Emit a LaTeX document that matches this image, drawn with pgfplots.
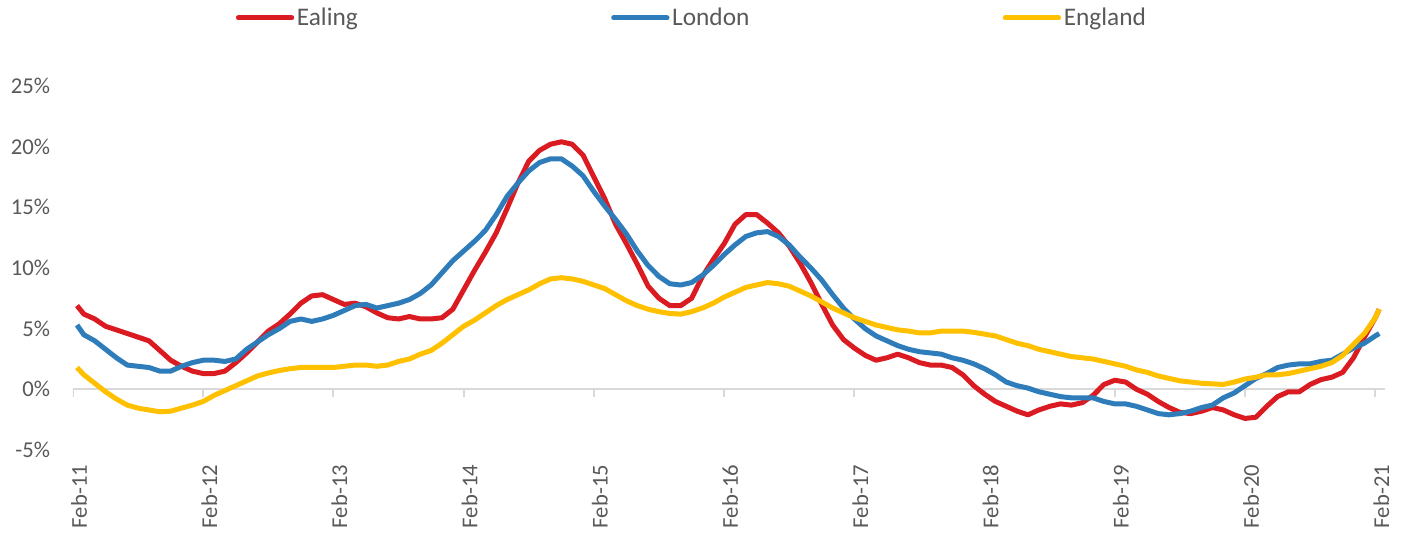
\documentclass[border=0pt]{standalone}
\usepackage{fontspec}
\setmainfont{Carlito}
\usepackage{pgfplots}
\usepackage{pgfplotstable}
\pgfplotsset{compat=1.18}

\definecolor{ealing}{RGB}{218,27,33}
\definecolor{london}{RGB}{46,125,186}
\definecolor{england}{RGB}{255,192,0}
\definecolor{txt}{RGB}{89,89,89}
\definecolor{zeroline}{RGB}{217,217,217}

% annual house price change, monthly, Feb-11 .. Feb-21 (x = months since Feb-11)
\pgfplotstableread{
x      ealing london england
0.37   6.9    5.3    1.8
1      6.2    4.5    1.2
2      5.8    4.0    0.5
3      5.2    3.3   -0.2
4      4.9    2.6   -0.8
5      4.6    2.0   -1.3
6      4.3    1.9   -1.55
7      4.0    1.8   -1.7
8      3.2    1.5   -1.85
9      2.4    1.5   -1.8
10     1.9    1.9   -1.55
11     1.5    2.2   -1.3
12     1.3    2.4   -1.0
13     1.3    2.4   -0.5
14     1.5    2.3   -0.1
15     2.2    2.5    0.3
16     3.0    3.3    0.7
17     3.9    3.9    1.1
18     4.8    4.5    1.35
19     5.4    5.0    1.55
20     6.2    5.6    1.7
21     7.1    5.8    1.8
22     7.7    5.6    1.8
23     7.8    5.8    1.8
24     7.4    6.1    1.8
25     7.0    6.5    1.9
26     7.1    6.9    2.0
27     6.8    7.0    2.0
28     6.3    6.7    1.9
29     5.9    6.9    2.0
30     5.8    7.1    2.3
31     6.0    7.4    2.5
32     5.8    7.9    2.9
33     5.8    8.6    3.2
34     5.9    9.6    3.8
35     6.6    10.6   4.5
36     8.2    11.4   5.2
37     9.8    12.2   5.7
38     11.3   13.1   6.3
39     12.9   14.4   6.9
40     14.9   15.9   7.4
41     17.0   17.0   7.8
42     18.8   18.0   8.2
43     19.7   18.7   8.7
44     20.2   19.0   9.1
45     20.4   19.0   9.2
46     20.2   18.4   9.1
47     19.3   17.6   8.9
48     17.5   16.3   8.6
49     15.7   15.1   8.3
50     13.6   14.0   7.8
51     12.0   12.8   7.3
52     10.3   11.4   6.9
53     8.5    10.2   6.6
54     7.5    9.3    6.4
55     6.9    8.7    6.25
56     6.9    8.6    6.2
57     7.5    8.8    6.4
58     9.3    9.4    6.7
59     10.7   10.2   7.1
60     12.0   11.1   7.6
61     13.6   11.9   8.0
62     14.4   12.6   8.4
63     14.4   12.9   8.6
64     13.7   13.0   8.8
65     12.9   12.6   8.7
66     11.8   11.9   8.5
67     10.4   10.9   8.1
68     8.8    10.0   7.7
69     7.0    9.0    7.2
70     5.3    7.8    6.7
71     4.1    6.7    6.3
72     3.4    5.8    5.9
73     2.8    5.0    5.6
74     2.4    4.4    5.3
75     2.6    4.0    5.1
76     2.9    3.6    4.9
77     2.6    3.3    4.8
78     2.2    3.1    4.65
79     2.0    3.0    4.65
80     2.0    2.9    4.8
81     1.8    2.6    4.8
82     1.2    2.4    4.8
83     0.3    2.1    4.7
84    -0.4    1.7    4.55
85    -1.0    1.2    4.4
86    -1.4    0.6    4.1
87    -1.8    0.3    3.8
88    -2.1    0.1    3.6
89    -1.7   -0.2    3.3
90    -1.4   -0.4    3.1
91    -1.2   -0.6    2.9
92    -1.3   -0.7    2.7
93    -1.1   -0.7    2.6
94    -0.5   -0.7    2.5
95     0.4   -1.0    2.3
96     0.75  -1.2    2.1
97     0.6   -1.2    1.9
98     0.0   -1.4    1.6
99    -0.4   -1.7    1.4
100   -1.0   -2.0    1.1
101   -1.5   -2.1    0.9
102   -1.9   -2.0    0.7
103   -2.0   -1.8    0.6
104   -1.8   -1.5    0.5
105   -1.5   -1.3    0.45
106   -1.7   -0.7    0.4
107   -2.1   -0.3    0.6
108   -2.4    0.3    0.85
109   -2.3    0.9    1.0
110   -1.4    1.3    1.2
111   -0.6    1.8    1.2
112   -0.2    2.0    1.3
113   -0.2    2.1    1.5
114    0.4    2.1    1.7
115    0.8    2.3    1.9
116    1.0    2.4    2.2
117    1.4    2.9    2.8
118    2.6    3.4    3.7
119    4.3    3.8    4.6
120    5.9    4.4    5.9
120.37 6.6    4.6    6.6
}\prices

\begin{document}
\begin{tikzpicture}
\begin{axis}[
    at={(0,0)}, anchor=south west,
    scale only axis,
    width=984pt, height=273pt,
    xmin=0, xmax=120.9,
    ymin=-5, ymax=25,
    axis line style={draw=none},
    major tick length=0pt,
    xtick={0,12,...,120},
    xticklabels={Feb-11,Feb-12,Feb-13,Feb-14,Feb-15,Feb-16,Feb-17,Feb-18,Feb-19,Feb-20,Feb-21},
    ytick={-5,0,...,25},
    yticklabels={-5\%,0\%,5\%,10\%,15\%,20\%,25\%},
    ticklabel style={font=\fontsize{17}{20}\selectfont, text=txt, inner sep=0pt},
    xticklabel style={xshift=4.5pt, rotate=90, anchor=east},
    xticklabel shift=11pt,
    yticklabel shift=17pt,
    legend columns=3,
    legend style={
        at={(0.472,1.187)}, anchor=center,
        draw=none, fill=none,
        font=\fontsize{19}{22}\selectfont, text=txt,
        /tikz/every even column/.append style={column sep=188pt},
    },
    legend image code/.code={\draw[#1, line width=3.75pt, line cap=round] (0pt,0pt) -- (40pt,0pt);},
    every axis plot/.append style={line width=3.75pt, line join=round},
]
\addplot[zeroline, line width=1.5pt, forget plot] coordinates {(0,0) (120.9,0)};
\pgfplotsinvokeforeach{0,12,...,120}{
    \draw[zeroline, line width=1.5pt] (axis cs:#1,0) -- ++(0pt,-6pt);
}
\addplot[ealing] table[x=x, y=ealing] {\prices};
\addlegendentry{Ealing}
\addplot[london] table[x=x, y=london] {\prices};
\addlegendentry{London}
\addplot[england] table[x=x, y=england] {\prices};
\addlegendentry{England}
\end{axis}
\pgfresetboundingbox
\path (-54.75pt,-63.75pt) rectangle (996.75pt,337.5pt);
\end{tikzpicture}
\end{document}
